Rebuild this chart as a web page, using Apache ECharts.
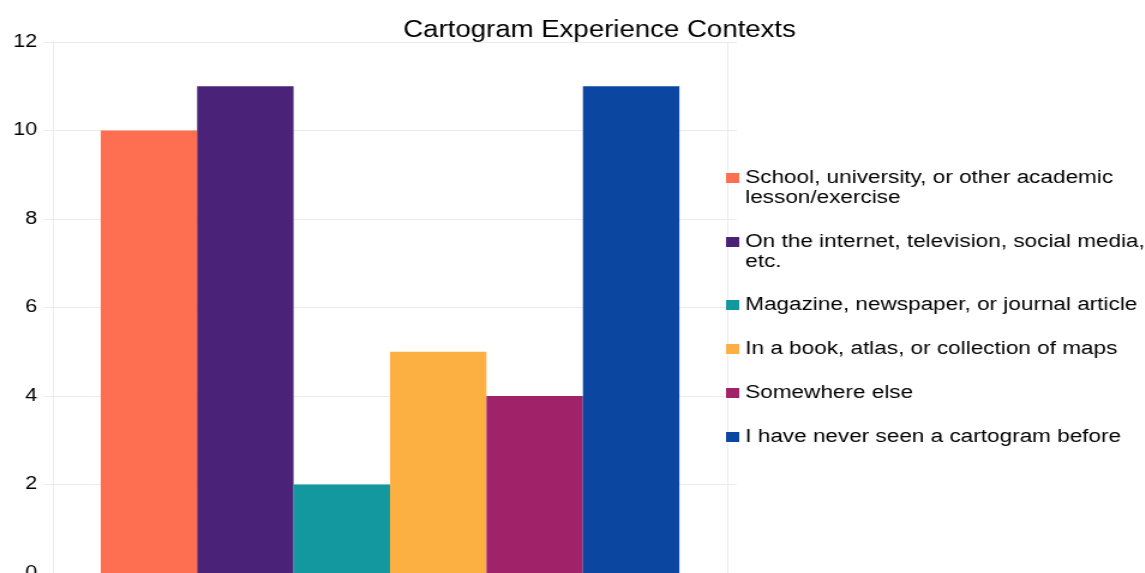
<!DOCTYPE html>
<html>
<head>
<meta charset="utf-8">
<script src="https://cdn.jsdelivr.net/npm/echarts@6/dist/echarts.min.js"></script>
<style>
  html, body { margin: 0; padding: 0; background: #fff; overflow: hidden; }
  /* the original picture is stretched sideways, so draw narrower and widen it */
  #main { width: 954px; height: 573px; transform: scaleX(1.2); transform-origin: 0 0; }
</style>
</head>
<body>
<div id="main"></div>
<script>
// data
var categories = ['Cartogram Experience Contexts'];
var seriesNames = [
  'School, university, or other academic lesson/exercise',
  'On the internet, television, social media, etc.',
  'Magazine, newspaper, or journal article',
  'In a book, atlas, or collection of maps',
  'Somewhere else',
  'I have never seen a cartogram before'
];
var seriesValues = [10, 11, 2, 5, 4, 11];
var yMin = 0, yMax = 12, yStep = 2;

var colors = ['#FD6F50', '#4A2378', '#13989F', '#FDB042', '#A02268', '#0B47A1'];

// legend layout: top of each entry, and whether its text wraps onto 2 lines
var legendTops = [168, 232, 295, 339, 383, 427];
var legendWraps = [true, true, false, false, false, false];
// square at the top of a tall box so it sits next to the first line
var topSquare = 'path://M0,0h11v10h-11zM0,29.99h0.01v0.01h-0.01z';

var gridColor = '#ebebeb';

var legends = seriesNames.map(function (n, i) {
  return {
    orient: 'vertical',
    left: 605,
    top: legendTops[i],
    padding: 0,
    itemWidth: 11,
    itemHeight: legendWraps[i] ? 30 : 10,
    icon: legendWraps[i] ? topSquare : 'rect',
    data: [n],
    textStyle: {
      color: '#000',
      fontFamily: 'Liberation Sans',
      fontSize: 18.8,
      lineHeight: 20,
      width: 342,
      overflow: 'break'
    }
  };
});

var option = {
  animation: false,
  title: {
    text: 'Cartogram Experience Contexts',
    left: 331,
    top: 14,
    textStyle: { color: '#000', fontFamily: 'Liberation Sans', fontSize: 23, fontWeight: 'normal' }
  },
  legend: legends,
  grid: { left: 44, right: 348, top: 42, bottom: 0, outerBoundsMode: 'none' },
  xAxis: {
    type: 'category',
    data: categories,
    axisLine: { show: false },
    axisTick: { show: false },
    axisLabel: { show: false }
  },
  yAxis: [
    {
      type: 'value',
      min: yMin, max: yMax, interval: yStep,
      axisLine: { show: true, lineStyle: { color: gridColor } },
      axisTick: { show: true, length: 8, lineStyle: { color: gridColor } },
      splitLine: { lineStyle: { color: gridColor } },
      axisLabel: { color: '#000', fontFamily: 'Liberation Sans', fontSize: 18, margin: 13 }
    },
    {
      type: 'value',
      position: 'right',
      min: yMin, max: yMax, interval: yStep,
      axisLine: { show: true, lineStyle: { color: gridColor } },
      axisTick: { show: true, length: 8, lineStyle: { color: gridColor } },
      splitLine: { show: false },
      axisLabel: { show: false }
    }
  ],
  series: seriesNames.map(function (n, i) {
    return {
      name: n,
      type: 'bar',
      data: [seriesValues[i]],
      barGap: '0%',
      barCategoryGap: '14.2%',
      itemStyle: { color: colors[i] }
    };
  })
};

var myChart = echarts.init(document.getElementById('main'));
myChart.setOption(option);
</script>
</body>
</html>
